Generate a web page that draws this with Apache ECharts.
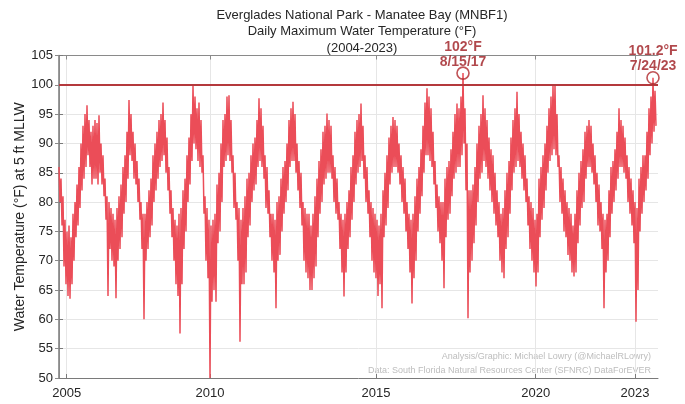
<!DOCTYPE html>
<html>
<head>
<meta charset="utf-8">
<script src="https://cdn.jsdelivr.net/npm/echarts@6/dist/echarts.min.js"></script>
<style>html,body{margin:0;padding:0;background:#fff}#c{width:685px;height:404px}</style>
</head>
<body>
<div id="c"></div>
<script>
// Daily maximum water temperature (°F), sampled along the record (one value every 11 record days)
const sampleStepDays = 11;
const maxTempF = [
86,80, 84,76, 81,69, 77,66, 75,64, 76,63.5, 74,66, 78,70, 80,74, 83,76,
86,79, 90,82, 93,84, 95,86, 96.5,88, 94,86, 92,83, 93,84, 94,84, 93.5,83,
94.8,85, 90,83, 88,81, 84,77, 81,64, 80,72, 79,70, 78,69, 77,63.6, 79,70,
81,72, 83,74, 86,78, 88,80, 92,84, 97.4,88, 95,87, 92,84, 90,83, 87,80,
84,77, 80,72, 78,60, 78,70, 80,72, 82,74, 84,76, 88,80, 90,82, 92,84,
94,86, 95,87, 97,88, 94,85, 91,82, 86,78, 82,74, 79,70, 77,66, 76,64,
78,57.6, 79,66, 82,72, 84,75, 88,80, 91,83, 95,87, 100,90, 98,89, 96,87,
97,86, 94,85, 88,78, 81,70, 79,67, 77,50, 76,63, 77,65, 78,63, 83,73,
85,75, 90,80, 94,86, 95,87, 98,88, 98.2,87, 94,85, 88,79, 85,77, 80,70,
79,56.2, 77,66, 79,66, 81,68, 84,74, 85,76, 88,80, 90,82, 91,83, 94,86,
97.7,87, 96,86, 93,84, 88,79, 86,78, 82,74, 78,70, 78,68, 77,61.9, 80,70,
81,71, 84,75, 86,78, 87,80, 90,82, 94,86, 96,87, 97.1,87, 95,85, 90,82,
87,79, 85,76, 80,70, 79,68, 78,67, 78,65, 76,65, 78,67, 81,69, 84,74,
87,78, 89,80, 92,83, 93,84, 95.1,85, 94,85, 93,84, 88,80, 86,78, 84,77,
80,72, 78,68, 77,63.9, 78,68, 80,72, 82,74, 86,77, 88,80, 92,83, 94,85,
95,86, 96.8,87, 93,84, 88,80, 86,78, 82,74, 80,70, 79,68, 78,67, 77,64,
76,66, 78,61.9, 82,74, 85,76, 88,79, 91,83, 93,85, 94.5,86, 94,86, 93,85,
90,83, 88,80, 86,78, 84,75, 80,72, 78,68, 77,62.7, 78,67, 81,70, 84,75,
86,78, 89,81, 93,85, 97,88, 99.4,88, 98,87, 96,86, 92,83, 87,79, 83,75,
81,73, 80,70, 80,65.3, 84,74, 86,77, 87,78, 89,81, 92,84, 95,85, 96.8,86,
96,86, 98,88, 102,90, 96,82, 90,60.2, 82,68, 82,70, 83,73, 86,76, 90,80,
93,84, 95,85, 98.2,87, 96,86, 94,84, 91,82, 89,80, 88,78, 85,76, 82,74,
80,70, 78,68, 79,67, 82,72, 85,74, 87,78, 91,82, 94,85, 96,86, 98.8,87,
95,86, 92,84, 90,82, 88,80, 84,76, 81,72, 80,70, 79,68, 77,65.6, 78,68,
84,74, 86,77, 88,79, 90,82, 93,85, 96,87, 98,88, 100,89, 100,88, 95,86,
88,80, 86,78, 84,75, 82,74, 80,71, 79,70, 78,68, 76,67.3, 78,68, 82,73,
85,76, 87,79, 89,80, 92,84, 93,86, 94,86, 93,85, 90,83, 88,80, 85,76,
83,75, 80,72, 78,61.9, 77,68, 78,70, 82,74, 86,78, 87,80, 89,82, 92,84,
96,86, 94,86, 93,85, 91,84, 88,80, 86,78, 84,76, 82,73, 80,59.6, 79,65,
84,75, 86,78, 88,80, 88,82, 92,84, 96,88, 98,90, 101.2,92, 99,93
];
// x-axis: record day index where each labelled year begins
const yearTickDays = [85, 1661, 3487, 5244, 6336];
const yearTickLabels = ['2005', '2010', '2015', '2020', '2023'];
const recordLengthDays = 6589;
// record highs
const recordTemps = [102, 101.2];
const recordDates = ['8/15/17', '7/24/23'];
const thresholdF = 100;

const seriesData = maxTempF.map((v, i) => [i * sampleStepDays, v]);
const recordPoints = recordTemps.map((t, k) => {
  const i = maxTempF.indexOf(t);
  return { value: [i * sampleStepDays, t], label: { formatter: t + '°F\n' + recordDates[k] } };
});

const chart = echarts.init(document.getElementById('c'), null, { renderer: 'canvas' });
const tickLabelFmt = v => { const k = yearTickDays.indexOf(v); return k >= 0 ? yearTickLabels[k] : ''; };
const font = 'Liberation Sans, Arial, Helvetica, sans-serif';

chart.setOption({
  animation: false,
  textStyle: { fontFamily: font },
  title: {
    text: 'Everglades National Park - Manatee Bay (MNBF1)\nDaily Maximum Water Temperature (°F)\n(2004-2023)',
    left: 357, top: 2, textAlign: 'center',
    textStyle: { fontSize: 13, fontWeight: 'normal', color: '#262626', lineHeight: 16.5, fontFamily: font }
  },
  grid: { left: 59, right: 27, top: 55.5, bottom: 26, outerBoundsMode: 'none', containLabel: false },
  xAxis: [{
    type: 'value', min: 0, max: recordLengthDays,
    axisLine: { show: true, lineStyle: { color: '#7a7a7a', width: 1 } },
    axisTick: { show: true, inside: true, length: 4, customValues: yearTickDays, lineStyle: { color: '#7a7a7a' } },
    axisLabel: { customValues: yearTickDays, formatter: tickLabelFmt, color: '#262626', fontSize: 13, margin: 9, fontFamily: font },
    splitLine: { show: true, lineStyle: { color: '#e6e6e6', width: 1 } }
  }, {
    type: 'value', min: 0, max: recordLengthDays, position: 'top',
    axisLine: { show: true, lineStyle: { color: '#8a8a8a', width: 1 } },
    axisTick: { show: true, inside: true, length: 4, customValues: yearTickDays, lineStyle: { color: '#8a8a8a' } },
    axisLabel: { show: false, customValues: yearTickDays },
    splitLine: { show: false }
  }],
  yAxis: [{
    type: 'value', min: 50, max: 105, interval: 5,
    name: 'Water Temperature (°F) at 5 ft MLLW', nameLocation: 'middle', nameGap: 32, nameRotate: 90,
    nameMoveOverlap: false,
    nameTextStyle: { fontSize: 14, color: '#262626', fontFamily: font },
    axisLine: { show: true, lineStyle: { color: '#7a7a7a', width: 1.5 } },
    axisTick: { show: true, inside: true, length: 4, lineStyle: { color: '#7a7a7a' } },
    axisLabel: { color: '#262626', fontSize: 13, margin: 6, fontFamily: font },
    splitLine: { show: true, lineStyle: { color: '#e6e6e6', width: 1 } }
  }, {
    type: 'value', min: 50, max: 105, interval: 5, position: 'right',
    axisLine: { show: true, lineStyle: { color: '#8a8a8a', width: 1 } },
    axisTick: { show: true, inside: true, length: 4, lineStyle: { color: '#8a8a8a' } },
    axisLabel: { show: false },
    splitLine: { show: false }
  }],
  series: [{
    type: 'line', data: seriesData, showSymbol: false, symbol: 'none',
    lineStyle: { color: '#eb4d58', width: 1.5 }, z: 2, clip: true,
    markLine: {
      silent: true, symbol: 'none', label: { show: false },
      lineStyle: { color: '#b4393c', width: 2, type: 'solid' },
      data: [{ yAxis: thresholdF }]
    }
  }, {
    type: 'scatter', data: recordPoints, symbol: 'circle', symbolSize: 12, z: 5,
    itemStyle: { color: 'rgba(0,0,0,0)', borderColor: '#b0282c', borderWidth: 1.6 },
    label: {
      show: true, position: 'top', distance: -3, color: '#9e1a1f', fontSize: 14, fontWeight: 'bold',
      lineHeight: 15, align: 'center', fontFamily: font
    }
  }],
  graphic: [{
    type: 'text', right: 34, top: 352,
    style: { text: 'Analysis/Graphic: Michael Lowry (@MichaelRLowry)', fill: '#bdbdbd', fontSize: 9, fontFamily: font, textAlign: 'right' }
  }, {
    type: 'text', right: 34, top: 366,
    style: { text: 'Data: South Florida Natural Resources Center (SFNRC) DataForEVER', fill: '#bdbdbd', fontSize: 9, fontFamily: font, textAlign: 'right' }
  }]
});
</script>
</body>
</html>
